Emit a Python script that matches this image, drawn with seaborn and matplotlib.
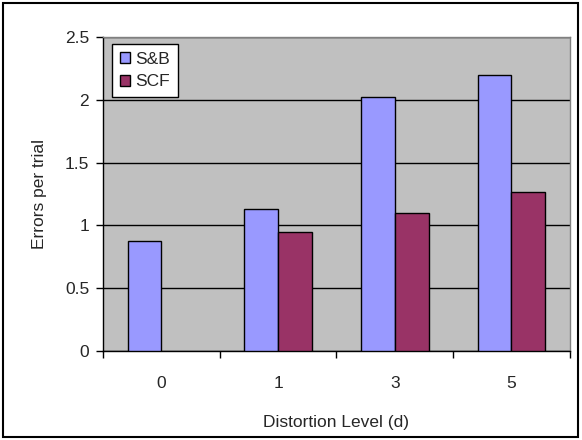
import matplotlib
matplotlib.use("Agg")
import matplotlib.pyplot as plt
import seaborn as sns
import pandas as pd
import numpy as np
from matplotlib.patches import Rectangle, Patch
from matplotlib.ticker import FixedLocator

levels = ["0", "1", "3", "5"]
sb_values = [0.88, 1.13, 2.02, 2.20]
scf_values = [np.nan, 0.95, 1.10, 1.27]
series = ["S&B", "SCF"]
colors = ["#9999FF", "#993366"]

df = pd.DataFrame({
    "level": levels * 2,
    "value": sb_values + scf_values,
    "series": [series[0]] * 4 + [series[1]] * 4,
}).dropna()

sns.set_style("white")
plt.rcParams["font.family"] = ["Liberation Sans", "DejaVu Sans"]
FS = 12.5

fig = plt.figure(figsize=(5.82, 4.4), dpi=100)
ax = fig.add_axes([0.177, 0.202, 0.802, 0.714])
ax.set_facecolor("#C0C0C0")

sns.barplot(data=df, x="level", y="value", hue="series", order=levels,
            hue_order=series, palette=colors, width=0.58, gap=0,
            edgecolor="black", linewidth=1.0, saturation=1, ax=ax,
            legend=False, zorder=3)

ax.set_ylim(0, 2.5)
ax.set_xlim(-0.5, 3.5)
ax.set_yticks([0, 0.5, 1, 1.5, 2, 2.5])
ax.set_yticklabels(["0", "0.5", "1", "1.5", "2", "2.5"])
ax.yaxis.grid(True, color="black", linewidth=1.0, zorder=0)
ax.set_axisbelow(True)
ax.tick_params(axis="y", direction="out", length=5, width=1, color="black",
               labelsize=FS, left=True, pad=5)
ax.tick_params(axis="x", which="major", length=0, labelsize=FS, pad=18)
ax.xaxis.set_minor_locator(FixedLocator([-0.5, 0.5, 1.5, 2.5, 3.5]))
ax.tick_params(axis="x", which="minor", direction="out", length=5, width=1,
               color="black", bottom=True)

ax.set_xlabel("Distortion Level (d)", fontsize=FS, labelpad=17)
ax.set_ylabel("Errors per trial", fontsize=FS, labelpad=13)

for s in ["left", "bottom"]:
    ax.spines[s].set_color("black")
    ax.spines[s].set_linewidth(1.0)
for s in ["top", "right"]:
    ax.spines[s].set_color("#808080")
    ax.spines[s].set_linewidth(1.0)
    ax.spines[s].set_visible(True)

handles = [Patch(facecolor=c, edgecolor="black", linewidth=1.0) for c in colors]
leg = ax.legend(handles, series, loc="upper left", bbox_to_anchor=(0.019, 0.978),
                frameon=True, fancybox=False, edgecolor="black", facecolor="white",
                framealpha=1, fontsize=FS, handlelength=0.6, handleheight=0.6,
                handletextpad=0.3, borderpad=0.45, labelspacing=0.45,
                borderaxespad=0)
leg.get_frame().set_linewidth(1.0)

fig.patches.append(Rectangle((0.005, 0.007), 0.988, 0.986, transform=fig.transFigure,
                             fill=False, edgecolor="black", linewidth=1.5))

fig.savefig("out.png", dpi=100)
